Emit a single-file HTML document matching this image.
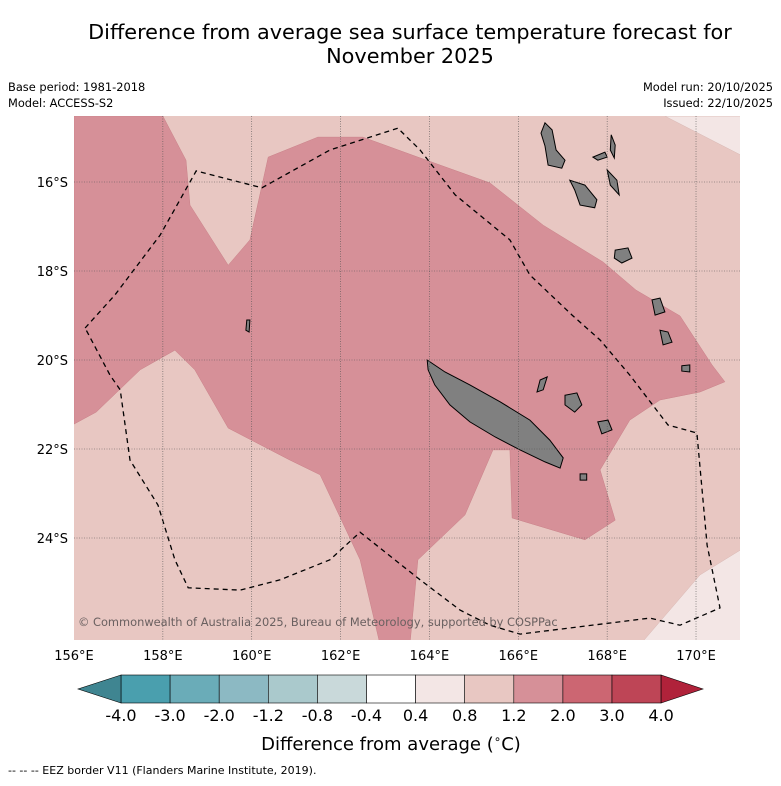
<!DOCTYPE html>
<html><head><meta charset="utf-8">
<style>
body{margin:0;background:#fff;font-family:"Liberation Sans",sans-serif;}
svg text{font-family:"DejaVu Sans","Liberation Sans",sans-serif;}
</style></head>
<body>
<svg id="chart" width="781" height="781" viewBox="0 0 781 781" xmlns="http://www.w3.org/2000/svg">
<rect width="781" height="781" fill="#fff"/>
<text x="410" y="39" font-size="20.8" text-anchor="middle">Difference from average sea surface temperature forecast for</text>
<text x="410" y="63" font-size="20.8" text-anchor="middle">November 2025</text>
<text x="8" y="91" font-size="11.4">Base period: 1981-2018</text>
<text x="8" y="107" font-size="11.4">Model: ACCESS-S2</text>
<text x="773" y="91" font-size="11.4" text-anchor="end">Model run: 20/10/2025</text>
<text x="773" y="107" font-size="11.4" text-anchor="end">Issued: 22/10/2025</text>
<defs><clipPath id="mapclip"><rect x="74" y="116" width="666" height="524"/></clipPath></defs>
<g id="map" clip-path="url(#mapclip)"></g>
<g id="grid"></g>
<g id="cbar"></g>
<text x="78" y="626" font-size="11.4" fill="#6a6060">© Commonwealth of Australia 2025, Bureau of Meteorology, supported by COSPPac</text>
<text x="391" y="750" font-size="18" text-anchor="middle">Difference from average (<tspan font-size="12" dy="-7">∘</tspan><tspan dy="7">C)</tspan></text>
<text x="8" y="774" font-size="11">--  --  -- EEZ border V11 (Flanders Marine Institute, 2019).</text>
</svg>
<script>
const lonTicks=[156,158,160,162,164,166,168,170];
const latTicks=[16,18,20,22,24];
const darkRegion=[[156,-14.52],[158.0,-14.52],[158.52,-15.51],[158.61,-16.52],[159.47,-17.87],[159.96,-17.3],[160.37,-15.44],[161.49,-14.99],[162.5,-14.99],[163.74,-15.44],[165.36,-16.02],[166.56,-16.97],[167.91,-17.8],[168.65,-18.43],[169.64,-19.01],[170.36,-20.11],[170.65,-20.49],[170.09,-20.72],[169.19,-20.9],[168.51,-21.35],[167.84,-22.47],[168.18,-23.6],[167.5,-24.04],[165.86,-23.55],[165.81,-22.02],[165.43,-22.02],[164.8,-23.48],[163.74,-24.49],[163.56,-26.4],[162.89,-26.4],[162.44,-24.49],[161.54,-22.58],[160.86,-22.25],[159.47,-21.53],[158.72,-20.22],[158.27,-19.78],[157.49,-20.22],[156.5,-21.17],[156,-21.44]];
const paleNE=[[169.3,-14.52],[171,-14.52],[171,-15.39]];
const paleSE=[[168.74,-26.4],[169.41,-25.62],[170.09,-24.83],[171,-24.27],[171,-26.4]];
const eez=[[156.25,-19.28],[156.92,-18.54],[157.94,-17.19],[158.75,-15.75],[160.23,-16.13],[161.76,-15.28],[163.29,-14.79],[163.79,-15.28],[164.58,-16.29],[165.81,-17.3],[166.26,-18.09],[167.21,-18.99],[167.84,-19.55],[168.51,-20.34],[169.37,-21.46],[170.02,-21.64],[170.25,-24.16],[170.54,-25.57],[169.64,-25.96],[168.96,-25.8],[166.04,-26.16],[165.36,-25.96],[164.69,-25.62],[163.79,-24.94],[163.22,-24.49],[162.44,-23.87],[161.76,-24.49],[160.64,-24.94],[159.74,-25.17],[158.57,-25.12],[158.27,-24.49],[157.89,-23.26],[157.26,-22.25],[157.04,-20.67],[156.81,-20.34],[156.25,-19.28]];
const islands=[
[[163.95,-20.0],[164.35,-20.27],[164.91,-20.56],[165.59,-20.94],[166.26,-21.35],[166.71,-21.8],[167.01,-22.2],[166.94,-22.43],[166.6,-22.29],[166.04,-22.02],[165.48,-21.73],[164.91,-21.39],[164.46,-21.01],[164.12,-20.56],[163.97,-20.22]],
[[166.6,-14.67],[166.76,-14.83],[166.85,-15.28],[167.05,-15.51],[166.98,-15.69],[166.67,-15.62],[166.6,-15.19],[166.51,-14.9]],
[[167.16,-15.96],[167.5,-16.07],[167.77,-16.4],[167.72,-16.58],[167.39,-16.52],[167.27,-16.18]],
[[168.18,-17.53],[168.47,-17.48],[168.56,-17.71],[168.33,-17.82],[168.16,-17.71]],
[[168.09,-14.94],[168.18,-15.17],[168.16,-15.46],[168.07,-15.28]],
[[167.68,-15.44],[167.95,-15.33],[168.0,-15.44],[167.79,-15.51]],
[[168.0,-15.73],[168.22,-15.96],[168.27,-16.29],[168.07,-16.07]],
[[169.01,-18.65],[169.19,-18.61],[169.3,-18.92],[169.08,-18.99]],
[[169.19,-19.33],[169.37,-19.37],[169.46,-19.6],[169.26,-19.66]],
[[169.68,-20.13],[169.86,-20.11],[169.86,-20.27],[169.68,-20.25]],
[[167.05,-20.79],[167.32,-20.74],[167.43,-21.01],[167.27,-21.17],[167.05,-21.01]],
[[167.79,-21.39],[168.02,-21.35],[168.11,-21.57],[167.88,-21.66]],
[[166.49,-20.45],[166.65,-20.38],[166.56,-20.67],[166.42,-20.72]],
[[167.39,-22.56],[167.54,-22.56],[167.54,-22.7],[167.39,-22.7]],
[[159.89,-19.1],[159.96,-19.1],[159.94,-19.37],[159.87,-19.33]]
];
const cbarLabels=["-4.0","-3.0","-2.0","-1.2","-0.8","-0.4","0.4","0.8","1.2","2.0","3.0","4.0"];
const cbarColors=["#4a9fae","#6aacb8","#8cb9c3","#aac9cc","#c9d9da","#ffffff","#f3e6e5","#e8c7c2","#d69098","#cc6672","#be4556"];

const NS="http://www.w3.org/2000/svg";
const X=lon=>74+(lon-156)*44.43;
const Y=lat=>182+(-lat-16)*44.5;
const pts=a=>a.map(p=>X(p[0]).toFixed(1)+","+Y(p[1]).toFixed(1)).join(" ");
function mk(tag,parent,attrs){const e=document.createElementNS(NS,tag);for(const k in attrs)e.setAttribute(k,attrs[k]);parent.appendChild(e);return e;}
const map=document.getElementById("map");
let bg=mk("rect",map,{x:74,y:116,width:666,height:524,fill:"#e8c7c2"});


let d=mk("polygon",map,{points:pts(darkRegion),fill:"#d69098",stroke:"#c98088","stroke-width":0.5});


[paleNE,paleSE].forEach(a=>{let p=mk("polygon",map,{points:pts(a),fill:"#f3e6e5",stroke:"#d8b8b4","stroke-width":0.5});

});
islands.forEach(a=>{let p=mk("polygon",map,{points:pts(a),fill:"#808080",stroke:"#000","stroke-width":1});

});
let e=mk("polyline",map,{points:pts(eez),fill:"none",stroke:"#000","stroke-width":1.3,"stroke-dasharray":"5,4"});


const grid=document.getElementById("grid");
lonTicks.forEach(l=>{
 if(l>156){let g=mk("line",grid,{x1:X(l),x2:X(l),y1:116,y2:640,stroke:"#555","stroke-width":0.6,"stroke-dasharray":"1,1.5"});
 
 }
 let t=mk("text",grid,{x:X(l),y:660,"font-size":13,"text-anchor":"middle"});t.textContent=l+"°E";
 
 
});
latTicks.forEach(l=>{
 let g=mk("line",grid,{x1:74,x2:740,y1:Y(-l),y2:Y(-l),stroke:"#555","stroke-width":0.6,"stroke-dasharray":"1,1.5"});
 
 
 let t=mk("text",grid,{x:68,y:Y(-l)+5,"font-size":13,"text-anchor":"end"});t.textContent=l+"°S";
 
 
});
const cb=document.getElementById("cbar");
const cx0=121,cw=49.1,cy=675,ch=28;
cbarColors.forEach((c,i)=>{let r=mk("rect",cb,{x:cx0+i*cw,y:cy,width:cw,height:ch,fill:c,stroke:"#000","stroke-width":0.6});

});
let lt=mk("polygon",cb,{points:`${cx0},${cy} ${cx0},${cy+ch} 78,${cy+ch/2}`,fill:"#3f8591",stroke:"#000","stroke-width":0.6});


const ce=cx0+cbarColors.length*cw;
let rt=mk("polygon",cb,{points:`${ce},${cy} ${ce},${cy+ch} 703,${cy+ch/2}`,fill:"#b0223a",stroke:"#000","stroke-width":0.6});


cbarLabels.forEach((s,i)=>{let t=mk("text",cb,{x:cx0+i*cw,y:721,"font-size":16,"text-anchor":"middle"});t.textContent=s;

});
</script>
</body></html>
